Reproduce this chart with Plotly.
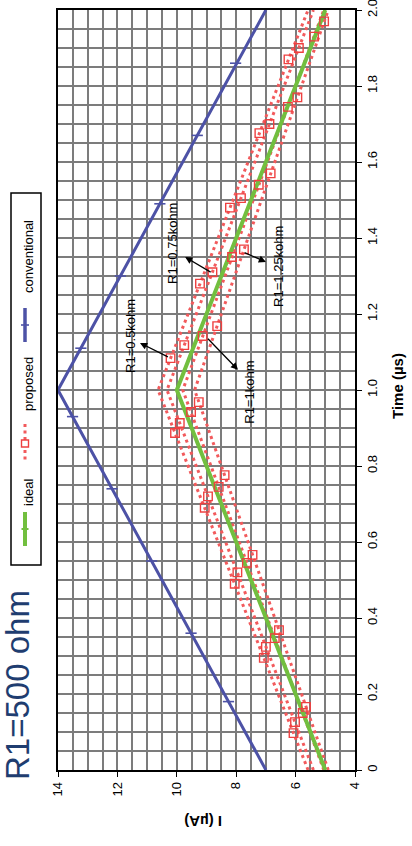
import plotly.graph_objects as go

# ---------------- data ----------------
time_vertices = [0.0, 1.0, 2.0]
ideal_I = [5.0, 10.0, 5.0]
conventional_I = [7.0, 14.0, 7.0]
conv_marker_t = [0.18, 0.36, 0.55, 0.74, 0.93, 1.11, 1.30, 1.49, 1.67, 1.86]
conv_marker_I = [8.26, 9.52, 10.85, 12.18, 13.51, 13.23, 11.90, 10.57, 9.31, 8.02]

prop_names = ["R1=0.5kohm", "R1=0.75kohm", "R1=1kohm", "R1=1.25kohm"]
prop_05_I = [5.58, 10.63, 5.58]
prop_075_I = [5.40, 10.33, 5.40]
prop_1_I = [5.05, 9.80, 5.05]
prop_125_I = [4.90, 9.40, 4.90]

prop_05_mt = [0.097, 0.295, 0.49, 0.69, 0.887, 1.084, 1.28, 1.48, 1.676, 1.87]
prop_05_mI = [6.07, 7.07, 8.05, 9.06, 10.06, 10.21, 9.22, 8.21, 7.22, 6.24]
prop_075_mt = [0.126, 0.324, 0.52, 0.72, 0.913, 1.118, 1.31, 1.505, 1.70, 1.90]
prop_075_mI = [6.02, 7.00, 7.96, 8.95, 9.90, 9.75, 8.80, 7.84, 6.88, 5.89]
prop_1_mt = [0.15, 0.347, 0.545, 0.745, 0.942, 1.142, 1.35, 1.54, 1.745, 1.93]
prop_1_mI = [5.76, 6.70, 7.64, 8.59, 9.52, 9.13, 8.14, 7.24, 6.26, 5.38]
prop_125_mt = [0.166, 0.368, 0.566, 0.776, 0.968, 1.168, 1.37, 1.57, 1.77, 1.97]
prop_125_mI = [5.65, 6.56, 7.45, 8.39, 9.26, 8.64, 7.74, 6.84, 5.94, 5.04]

I_ticks = [14, 12, 10, 8, 6, 4]
I_ticktext = ["14", "12", "10", "8", "6", "4"]
t_ticks = [0, 0.2, 0.4, 0.6, 0.8, 1.0, 1.2, 1.4, 1.6, 1.8, 2.0]
t_ticktext = ["0", "0.2", "0.4", "0.6", "0.8", "1.0", "1.2", "1.4", "1.6", "1.8", "2.0"]

legend_labels = ["ideal", "proposed", "conventional"]
# ---------------------------------------------------------------

BLUE = "#4d52a6"
GREEN = "#72bf3f"
RED = "#f25a5c"
RED_SQ = "#ee4040"
FONT = "Liberation Sans, Arial, sans-serif"

W, H = 412, 846
L, R, T, B = 58, 355, 10, 770


def px(p):
    return (p - L) / (R - L)


def py(p):
    return (B - p) / (B - T)


fig = go.Figure()

prop_lines = [prop_05_I, prop_075_I, prop_1_I, prop_125_I]
prop_mt = [prop_05_mt, prop_075_mt, prop_1_mt, prop_125_mt]
prop_mI = [prop_05_mI, prop_075_mI, prop_1_mI, prop_125_mI]

for name, line_I in zip(prop_names, prop_lines):
    fig.add_trace(go.Scatter(x=line_I, y=time_vertices, mode="lines", name=name,
                             line=dict(color=RED, width=3, dash="3px,3.5px"),
                             showlegend=False))

fig.add_trace(go.Scatter(x=ideal_I, y=time_vertices, mode="lines", name="ideal",
                         line=dict(color=GREEN, width=4), showlegend=False))

for name, mt, mI in zip(prop_names, prop_mt, prop_mI):
    fig.add_trace(go.Scatter(x=mI, y=mt, mode="markers", name=name,
                             marker=dict(symbol="square-open", size=8.5, color=RED_SQ,
                                         line=dict(width=1.4, color=RED_SQ)),
                             showlegend=False))

fig.add_trace(go.Scatter(x=conventional_I, y=time_vertices, mode="lines", name="conventional",
                         line=dict(color=BLUE, width=3), showlegend=False))
fig.add_trace(go.Scatter(x=conv_marker_I, y=conv_marker_t, mode="markers", name="conventional",
                         marker=dict(symbol="line-ew", size=8, color=BLUE,
                                     line=dict(width=1.6, color=BLUE)),
                         showlegend=False))

GRID = "#7c7c7c"
fig.update_xaxes(range=[14, 4], tickmode="array", tickvals=I_ticks, ticktext=I_ticktext,
                 tickangle=-90, ticks="outside", ticklen=5, tickcolor="black", tickwidth=1,
                 showline=True, linecolor="black", linewidth=1.5, mirror=True,
                 showgrid=True, gridcolor=GRID, gridwidth=1.5, zeroline=False,
                 automargin=False, ticklabeloverflow="allow",
                 tickfont=dict(family=FONT, size=13, color="black"),
                 minor=dict(tickmode="linear", tick0=4, dtick=0.5, showgrid=True,
                            gridcolor=GRID, gridwidth=1.5, ticks=""))
fig.update_yaxes(range=[0, 2], side="right", tickmode="array", tickvals=t_ticks,
                 ticktext=t_ticktext, tickangle=-90, ticks="outside", ticklen=5,
                 tickcolor="black", tickwidth=1,
                 showline=True, linecolor="black", linewidth=1.5, mirror=True,
                 showgrid=True, gridcolor=GRID, gridwidth=1.5, zeroline=False,
                 automargin=False, ticklabeloverflow="allow",
                 tickfont=dict(family=FONT, size=13, color="black"),
                 minor=dict(tickmode="linear", tick0=0, dtick=0.05, showgrid=True,
                            gridcolor=GRID, gridwidth=1.5, ticks=""))

annotations = []
shapes = []

# axis titles
annotations.append(dict(xref="paper", yref="paper", x=px(397), y=py(386), text="<b>Time (µs)</b>",
                        textangle=-90, showarrow=False, xanchor="center", yanchor="middle",
                        font=dict(family=FONT, size=15, color="black")))
annotations.append(dict(xref="paper", yref="paper", x=px(203), y=py(822), text="<b>I (µA)</b>",
                        textangle=180, showarrow=False, xanchor="center", yanchor="middle",
                        font=dict(family=FONT, size=15, color="black")))

# slide title
annotations.append(dict(xref="paper", yref="paper", x=px(17), y=py(685), text="R1=500 ohm",
                        textangle=-90, showarrow=False, xanchor="center", yanchor="middle",
                        font=dict(family=FONT, size=33, color="#1f3d70")))

# curve labels (text)
label_pos = [(11.58, 1.142), (10.13, 1.387), (7.54, 0.995), (6.60, 1.326)]
for name, (lx, ly) in zip(prop_names, label_pos):
    annotations.append(dict(xref="x", yref="y", x=lx, y=ly, text=name, textangle=-90,
                            showarrow=False, xanchor="center", yanchor="middle",
                            font=dict(family=FONT, size=13, color="black")))

# arrows from curves towards labels
arrows = [((11.24, 1.124), (10.25, 1.085)),
          ((9.72, 1.350), (8.81, 1.308)),
          ((7.94, 1.053), (9.00, 1.139)),
          ((7.00, 1.337), (7.77, 1.363))]
for (hx, hy), (tx, ty) in arrows:
    annotations.append(dict(xref="x", yref="y", axref="x", ayref="y", x=hx, y=hy, ax=tx, ay=ty,
                            text="", showarrow=True, arrowhead=2, arrowsize=1.1,
                            arrowwidth=1.3, arrowcolor="black"))

# custom rotated legend
shapes.append(dict(type="rect", xref="paper", yref="paper", x0=px(11), x1=px(41),
                   y0=py(565), y1=py(193), line=dict(color="black", width=1.5),
                   fillcolor="white", layer="above"))
# ideal sample
shapes.append(dict(type="line", xref="paper", yref="paper", x0=px(25), x1=px(25),
                   y0=py(512), y1=py(546), line=dict(color=GREEN, width=4)))
shapes.append(dict(type="line", xref="paper", yref="paper", x0=px(21.5), x1=px(28.5),
                   y0=py(529), y1=py(529), line=dict(color=GREEN, width=2)))
# proposed sample
shapes.append(dict(type="line", xref="paper", yref="paper", x0=px(25), x1=px(25),
                   y0=py(424), y1=py(463), line=dict(color=RED, width=3, dash="3px,3.5px")))
shapes.append(dict(type="rect", xref="paper", yref="paper", x0=px(21.5), x1=px(28.5),
                   y0=py(447), y1=py(440), line=dict(color=RED_SQ, width=1.4),
                   fillcolor="white"))
# conventional sample
shapes.append(dict(type="line", xref="paper", yref="paper", x0=px(25), x1=px(25),
                   y0=py(308), y1=py(342), line=dict(color=BLUE, width=3.5)))
shapes.append(dict(type="line", xref="paper", yref="paper", x0=px(21), x1=px(29),
                   y0=py(325), y1=py(325), line=dict(color=BLUE, width=1.6)))

legend_text_y = [492, 384, 257]
for lab, ly in zip(legend_labels, legend_text_y):
    annotations.append(dict(xref="paper", yref="paper", x=px(28), y=py(ly), text=lab,
                            textangle=-90, showarrow=False, xanchor="center", yanchor="middle",
                            font=dict(family=FONT, size=13, color="black")))

fig.update_layout(width=W, height=H, autosize=False,
                  margin=dict(l=L, r=W - R, t=T, b=H - B, pad=0, autoexpand=False),
                  paper_bgcolor="white", plot_bgcolor="white",
                  showlegend=False, annotations=annotations, shapes=shapes,
                  font=dict(family=FONT))

fig.write_html("out.html", config={"displayModeBar": False},
               post_script="document.body.style.margin='0px';document.body.style.padding='0px';")
